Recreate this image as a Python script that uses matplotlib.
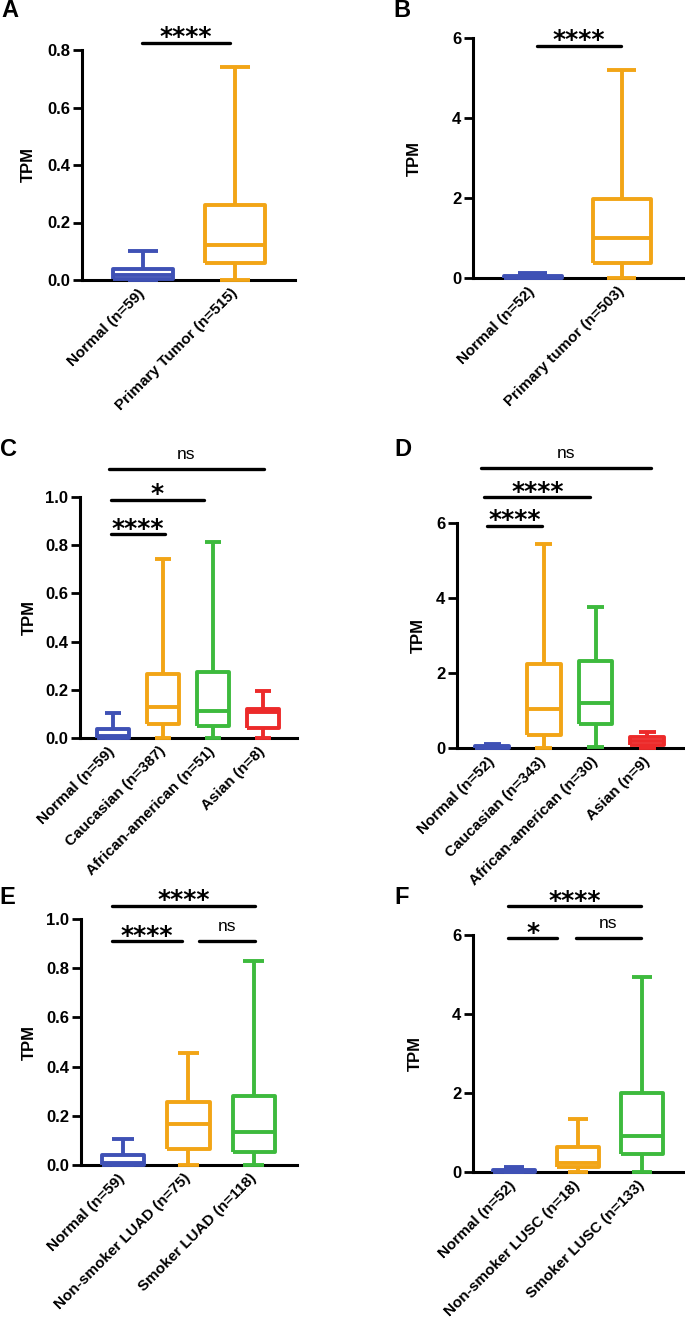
import matplotlib
matplotlib.use("Agg")
import matplotlib.pyplot as plt

plt.rcParams['font.family'] = ['Liberation Sans', 'DejaVu Sans']
plt.rcParams['font.weight'] = 'bold'

# colours of the groups
BLUE = "#3F51B5"
ORANGE = "#F2A516"
GREEN = "#3DBA3D"
RED = "#EC2A2A"

# ---- data ----
# A: LUAD normal vs tumour
a_labels = ["Normal (n=59)", "Primary Tumor (n=515)"]
a_whislo = [0.0, 0.0]
a_q1 = [0.003, 0.06]
a_med = [0.017, 0.122]
a_q3 = [0.037, 0.262]
a_whishi = [0.102, 0.742]
a_sig = [(0, 1, "****")]

# B: LUSC normal vs tumour
b_labels = ["Normal (n=52)", "Primary tumor (n=503)"]
b_whislo = [0.0, 0.0]
b_q1 = [0.0, 0.37]
b_med = [0.02, 1.0]
b_q3 = [0.04, 1.98]
b_whishi = [0.12, 5.2]
b_sig = [(0, 1, "****")]

# C: LUAD by race
c_labels = ["Normal (n=59)", "Caucasian (n=387)", "African-american (n=51)", "Asian (n=8)"]
c_whislo = [0.0, 0.0, 0.0, 0.0]
c_q1 = [0.0, 0.06, 0.05, 0.04]
c_med = [0.01, 0.13, 0.113, 0.108]
c_q3 = [0.036, 0.265, 0.275, 0.122]
c_whishi = [0.102, 0.742, 0.815, 0.196]
c_sig = [(0, 1, "****"), (0, 2, "*"), (0, 3, "ns")]

# D: LUSC by race
d_labels = ["Normal (n=52)", "Caucasian (n=343)", "African-american (n=30)", "Asian (n=9)"]
d_whislo = [0.0, 0.0, 0.03, 0.0]
d_q1 = [0.01, 0.36, 0.65, 0.09]
d_med = [0.03, 1.04, 1.2, 0.18]
d_q3 = [0.06, 2.24, 2.33, 0.29]
d_whishi = [0.12, 5.45, 3.75, 0.43]
d_sig = [(0, 1, "****"), (0, 2, "****"), (0, 3, "ns")]

# E: LUAD by smoking
e_labels = ["Normal (n=59)", "Non-smoker LUAD (n=75)", "Smoker LUAD (n=118)"]
e_whislo = [0.0, 0.0, 0.0]
e_q1 = [0.0, 0.066, 0.052]
e_med = [0.01, 0.166, 0.135]
e_q3 = [0.04, 0.255, 0.28]
e_whishi = [0.104, 0.455, 0.83]
e_sig = [(0, 1, "****"), (1, 2, "ns"), (0, 2, "****")]

# F: LUSC by smoking
f_labels = ["Normal (n=52)", "Non-smoker LUSC (n=18)", "Smoker LUSC (n=133)"]
f_whislo = [0.0, 0.0, 0.0]
f_q1 = [0.01, 0.13, 0.46]
f_med = [0.03, 0.24, 0.91]
f_q3 = [0.06, 0.63, 2.0]
f_whishi = [0.12, 1.35, 4.94]
f_sig = [(0, 1, "*"), (1, 2, "ns"), (0, 2, "****")]

# ---- layout: axes rectangles in pixels (left, top, right, bottom) ----
W, H = 685, 1318
fig = plt.figure(figsize=(W / 100, H / 100), dpi=100)


def make_axes(l, t, r, b):
    return fig.add_axes([l / W, 1 - b / H, (r - l) / W, (b - t) / H])


def panel(ax, labels, whislo, q1, med, q3, whishi, colors, ymax, yticks, fmt,
          xlim, sig, sig_geom, ylabel_dx):
    stats = []
    for i in range(len(labels)):
        stats.append(dict(whislo=whislo[i], q1=q1[i], med=med[i], q3=q3[i],
                          whishi=whishi[i], fliers=[]))
    pos = list(range(1, len(labels) + 1))
    bp = ax.bxp(stats, positions=pos, widths=0.65, showfliers=False,
                patch_artist=False)
    for i, c in enumerate(colors):
        for key, n in [("boxes", 1), ("medians", 1), ("whiskers", 2), ("caps", 2)]:
            for art in bp[key][i * n:(i + 1) * n]:
                art.set_color(c)
                art.set_linewidth(2.8)
                art.set_clip_on(False)
                art.set_zorder(3)
                art.set_solid_capstyle("butt")

    ax.set_xlim(*xlim)
    ax.set_ylim(0, ymax)
    ax.set_yticks(yticks)
    ax.set_yticklabels([fmt.format(v) for v in yticks], fontsize=12, fontweight='bold')
    ax.set_xticks(pos)
    ax.set_xticklabels(labels, rotation=45, ha='right', va='center',
                       rotation_mode='anchor', fontsize=11, fontweight='bold')
    ax.tick_params(axis='x', length=0, pad=8)
    ax.tick_params(axis='y', length=6.5, width=2, pad=2)
    for s in ["top", "right"]:
        ax.spines[s].set_visible(False)
    for s in ["left", "bottom"]:
        ax.spines[s].set_linewidth(2.2)
    ax.set_ylabel("TPM", fontsize=12, fontweight='bold')
    ax.yaxis.set_label_coords(ylabel_dx, 0.5)

    for (i, j, txt), (x1, x2, ybar) in zip(sig, sig_geom):
        ax.plot([x1, x2], [ybar, ybar], color="black", lw=2.4,
                solid_capstyle="round", clip_on=False)
        if txt == "ns":
            ax.annotate(txt, xy=((x1 + x2) / 2, ybar), xytext=(0, 7),
                        textcoords="offset points", ha="center", va="baseline",
                        fontsize=12.5, fontweight="normal", annotation_clip=False)
        else:
            ax.annotate(txt, xy=((x1 + x2) / 2, ybar), xytext=(0, -1),
                        textcoords="offset points", ha="center", va="baseline",
                        fontsize=18, fontweight="bold", family="DejaVu Sans",
                        annotation_clip=False)


axA = make_axes(82, 50, 295, 280)
panel(axA, a_labels, a_whislo, a_q1, a_med, a_q3, a_whishi, [BLUE, ORANGE],
      0.8, [0, 0.2, 0.4, 0.6, 0.8], "{:.1f}", (0.34, 2.65),
      a_sig, [(0.99, 1.95, 0.824)], -46 / 213)

axB = make_axes(473, 38, 685, 278)
panel(axB, b_labels, b_whislo, b_q1, b_med, b_q3, b_whishi, [BLUE, ORANGE],
      6, [0, 2, 4, 6], "{:.0f}", (0.33, 2.71),
      b_sig, [(1.05, 1.99, 5.8)], -51 / 212)

axC = make_axes(80, 497, 297, 738)
panel(axC, c_labels, c_whislo, c_q1, c_med, c_q3, c_whishi,
      [BLUE, ORANGE, GREEN, RED],
      1.0, [0, 0.2, 0.4, 0.6, 0.8, 1.0], "{:.1f}", (0.34, 4.68),
      c_sig, [(0.96, 2.04, 0.846), (0.96, 2.82, 0.988), (0.92, 4.02, 1.116)],
      -43 / 217)

axD = make_axes(457, 523, 685, 748)
panel(axD, d_labels, d_whislo, d_q1, d_med, d_q3, d_whishi,
      [BLUE, ORANGE, GREEN, RED],
      6, [0, 2, 4, 6], "{:.0f}", (0.32, 4.73),
      d_sig, [(0.90, 1.97, 5.92), (0.85, 2.90, 6.69), (0.79, 4.08, 7.47)],
      -31 / 228)

axE = make_axes(81, 919, 297, 1165)
panel(axE, e_labels, e_whislo, e_q1, e_med, e_q3, e_whishi,
      [BLUE, ORANGE, GREEN],
      1.0, [0, 0.2, 0.4, 0.6, 0.8, 1.0], "{:.1f}", (0.36, 3.66),
      e_sig, [(0.83, 1.90, 0.91), (2.16, 3.02, 0.91), (0.83, 3.02, 1.053)],
      -44 / 216)

axF = make_axes(473, 935, 685, 1172)
panel(axF, f_labels, f_whislo, f_q1, f_med, f_q3, f_whishi,
      [BLUE, ORANGE, GREEN],
      6, [0, 2, 4, 6], "{:.0f}", (0.36, 3.67),
      f_sig, [(0.91, 1.67, 5.92), (1.97, 2.98, 5.92), (0.91, 2.98, 6.73)],
      -50 / 212)

# panel letters
for letter, px, py in [("A", 1, -1), ("B", 393, -1), ("C", 0, 438), ("D", 394, 438),
                       ("E", -1, 886), ("F", 394, 886)]:
    fig.text(px / W, 1 - py / H, letter, ha="left", va="top",
             fontsize=17, fontweight="heavy")

fig.savefig("out.png", dpi=100)
